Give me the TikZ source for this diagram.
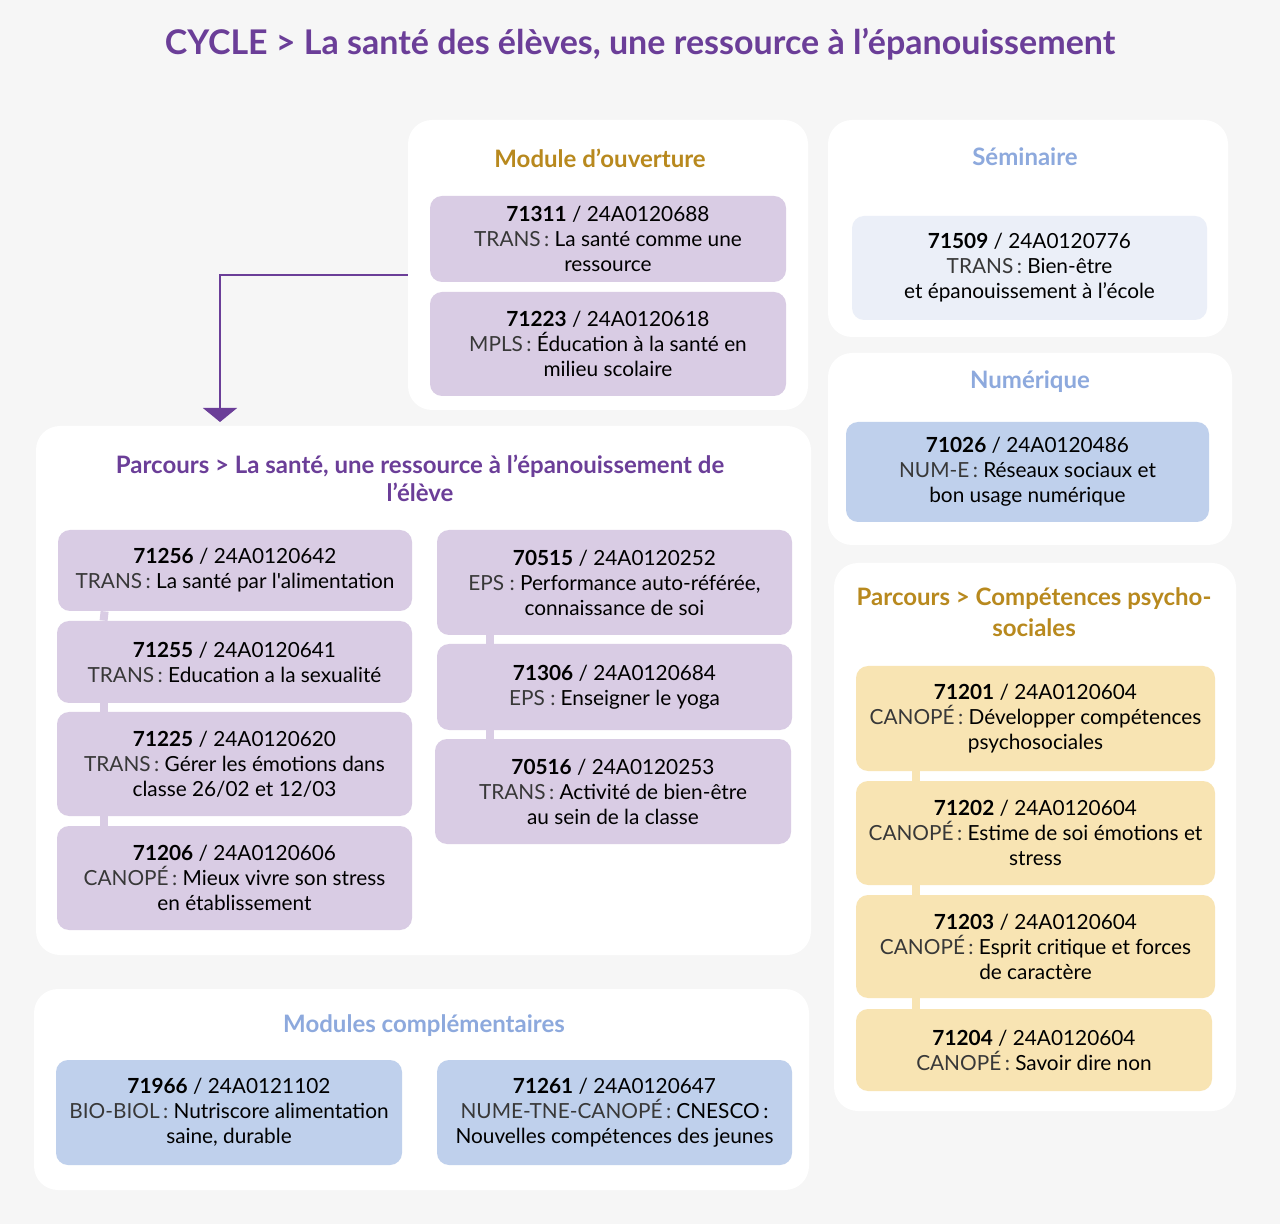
\documentclass[tikz,border=0pt]{standalone}
\usepackage{fontspec}
\setmainfont{Lato}[Ligatures=TeXOff]
\usetikzlibrary{arrows.meta}

\definecolor{fond}{HTML}{F6F6F6}
\definecolor{violet}{HTML}{6B3E98}
\definecolor{ocre}{HTML}{B8891E}
\definecolor{bleuclair}{HTML}{8DA9DD}
\definecolor{lilas}{HTML}{D9CCE4}
\definecolor{bleupale}{HTML}{EBEFF8}
\definecolor{bleu}{HTML}{BFD0EC}
\definecolor{jaune}{HTML}{F8E4B3}

\newcommand{\pre}[1]{{\color{black!78}#1}}

\begin{document}
\begin{tikzpicture}[x=0.5pt, y=-0.5pt]

        % Styles du schéma
        \tikzset{
            panneau/.style={fill=white, rounded corners=12pt, inner sep=0pt},
            boite/.style={rounded corners=6pt, align=center, inner sep=0pt,
                font=\fontsize{10.4}{12.5}\selectfont},
            titre/.style={align=center, font=\fontsize{12}{14}\selectfont\bfseries},
            lien/.style={line width=4pt},
            fleche/.style={draw=violet, line width=0.7pt,
                -{Triangle[width=17pt, length=7pt, fill=violet]}}
        }

        % Fond
        \fill[fond] (0,0) rectangle (1280,1224);
        \useasboundingbox (0,0) rectangle (1280,1224);

        % Titre général
        \node[text=violet, font=\fontsize{17}{20}\selectfont\bfseries] (titre) at (640,44)
            {CYCLE > La santé des élèves, une ressource à l’épanouissement};

        % Panneaux blancs
        \node[panneau, minimum width=200pt, minimum height=145pt] (pOuv) at (608,265) {};
        \node[panneau, minimum width=200pt, minimum height=108.5pt] (pSem) at (1028,228.5) {};
        \node[panneau, minimum width=202pt, minimum height=96pt] (pNum) at (1030,449) {};
        \node[panneau, minimum width=387.5pt, minimum height=264.5pt] (pSante) at (423.5,690.5) {};
        \node[panneau, minimum width=201pt, minimum height=274pt] (pPsy) at (1035,837) {};
        \node[panneau, minimum width=387.5pt, minimum height=100.5pt] (pComp) at (421.5,1089.5) {};

        % Titres des panneaux
        \node[titre, text=ocre] (tOuv) at (600,158) {Module d’ouverture};
        \node[titre, text=bleuclair] (tSem) at (1025,157) {Séminaire};
        \node[titre, text=bleuclair] (tNum) at (1030,382) {Numérique};
        \node[titre, text=violet] (tSante) at (420,478)
            {Parcours > La santé, une ressource à l’épanouissement de\\l’élève};
        \node[titre, text=ocre, font=\fontsize{12}{15.5}\selectfont\bfseries] (tPsy) at (1034,612)
            {Parcours > Compétences psycho-\\sociales};
        \node[titre, text=bleuclair] (tComp) at (424,1026) {Modules complémentaires};

        % Module d'ouverture
        \node[boite, fill=lilas, minimum width=178pt, minimum height=43pt] (b71311) at (608,239)
            {\textbf{71311} / 24A0120688\\\pre{TRANS\,:} La santé comme une\\ressource};
        \node[boite, fill=lilas, minimum width=178pt, minimum height=52pt] (b71223) at (608,344)
            {\textbf{71223} / 24A0120618\\\pre{MPLS\,:} Éducation à la santé en\\milieu scolaire};

        % Séminaire et numérique
        \node[boite, fill=bleupale, minimum width=177.5pt, minimum height=52pt] (b71509) at (1029.5,268)
            {\textbf{71509} / 24A0120776\\\pre{TRANS\,:} Bien-être\\et épanouissement à l’école};
        \node[boite, fill=bleu, minimum width=181.5pt, minimum height=50pt] (b71026) at (1027.5,472)
            {\textbf{71026} / 24A0120486\\\pre{NUM-E\,:} Réseaux sociaux et\\bon usage numérique};

        % Parcours santé, colonne gauche
        \node[boite, fill=lilas, minimum width=177pt, minimum height=40.5pt] (b71256) at (235,570.5)
            {\textbf{71256} / 24A0120642\\\pre{TRANS\,:} La santé par l'alimentation};
        \node[boite, fill=lilas, minimum width=177.5pt, minimum height=41pt] (b71255) at (234.5,662)
            {\textbf{71255} / 24A0120641\\\pre{TRANS\,:} Education a la sexualité};
        \node[boite, fill=lilas, minimum width=177.5pt, minimum height=52pt] (b71225) at (234.5,764)
            {\textbf{71225} / 24A0120620\\\pre{TRANS\,:} Gérer les émotions dans\\classe 26/02 et 12/03};
        \node[boite, fill=lilas, minimum width=177.5pt, minimum height=52pt] (b71206) at (234.5,878)
            {\textbf{71206} / 24A0120606\\\pre{CANOPÉ\,:} Mieux vivre son stress\\en établissement};

        % Parcours santé, colonne droite
        \node[boite, fill=lilas, minimum width=177.5pt, minimum height=52.5pt] (b70515) at (614.5,582.5)
            {\textbf{70515} / 24A0120252\\\pre{EPS :} Performance auto-référée,\\connaissance de soi};
        \node[boite, fill=lilas, minimum width=177.5pt, minimum height=43pt] (b71306) at (614.5,687)
            {\textbf{71306} / 24A0120684\\\pre{EPS :} Enseigner le yoga};
        \node[boite, fill=lilas, minimum width=178pt, minimum height=52.5pt] (b70516) at (613,791.5)
            {\textbf{70516} / 24A0120253\\\pre{TRANS\,:} Activité de bien-être\\au sein de la classe};

        % Compétences psychosociales
        \node[boite, fill=jaune, minimum width=179.5pt, minimum height=52.5pt] (b71201) at (1035.5,718.5)
            {\textbf{71201} / 24A0120604\\\pre{CANOPÉ\,:} Développer compétences\\psychosociales};
        \node[boite, fill=jaune, minimum width=179.5pt, minimum height=52pt] (b71202) at (1035.5,833)
            {\textbf{71202} / 24A0120604\\\pre{CANOPÉ\,:} Estime de soi émotions et\\stress};
        \node[boite, fill=jaune, minimum width=179.5pt, minimum height=51.5pt] (b71203) at (1035.5,946.5)
            {\textbf{71203} / 24A0120604\\\pre{CANOPÉ\,:} Esprit critique et forces\\de caractère};
        \node[boite, fill=jaune, minimum width=178pt, minimum height=41pt] (b71204) at (1034,1050)
            {\textbf{71204} / 24A0120604\\\pre{CANOPÉ\,:} Savoir dire non};

        % Modules complémentaires
        \node[boite, fill=bleu, minimum width=173pt, minimum height=52.5pt] (b71966) at (229,1112.5)
            {\textbf{71966} / 24A0121102\\\pre{BIO-BIOL\,:} Nutriscore alimentation\\saine, durable};
        \node[boite, fill=bleu, minimum width=177.5pt, minimum height=52.5pt] (b71261) at (614.5,1112.5)
            {\textbf{71261} / 24A0120647\\\pre{NUME-TNE-CANOPÉ\,:} CNESCO\,:\\Nouvelles compétences des jeunes};

        % Liens entre les boites
        \draw[lien, lilas] ([xshift=23.5pt]b71256.south west) -- ([xshift=23.5pt]b71255.north west);
        \draw[lien, lilas] ([xshift=23.5pt]b71255.south west) -- ([xshift=23.5pt]b71225.north west);
        \draw[lien, lilas] ([xshift=23.5pt]b71225.south west) -- ([xshift=23.5pt]b71206.north west);
        \draw[lien, lilas] ([xshift=26.5pt]b70515.south west) -- ([xshift=26.5pt]b71306.north west);
        \draw[lien, lilas] ([xshift=26.5pt]b71306.south west) -- ([xshift=27.5pt]b70516.north west);
        \draw[lien, jaune] ([xshift=30pt]b71201.south west) -- ([xshift=30pt]b71202.north west);
        \draw[lien, jaune] ([xshift=30pt]b71202.south west) -- ([xshift=30pt]b71203.north west);
        \draw[lien, jaune] ([xshift=30pt]b71203.south west) -- ([xshift=30pt]b71204.north west);

        % Flèche vers le parcours
        \coordinate (cible) at (220,422);
        \draw[fleche] ([yshift=-5pt]pOuv.west) -| (cible);

    \end{tikzpicture}
\end{document}
